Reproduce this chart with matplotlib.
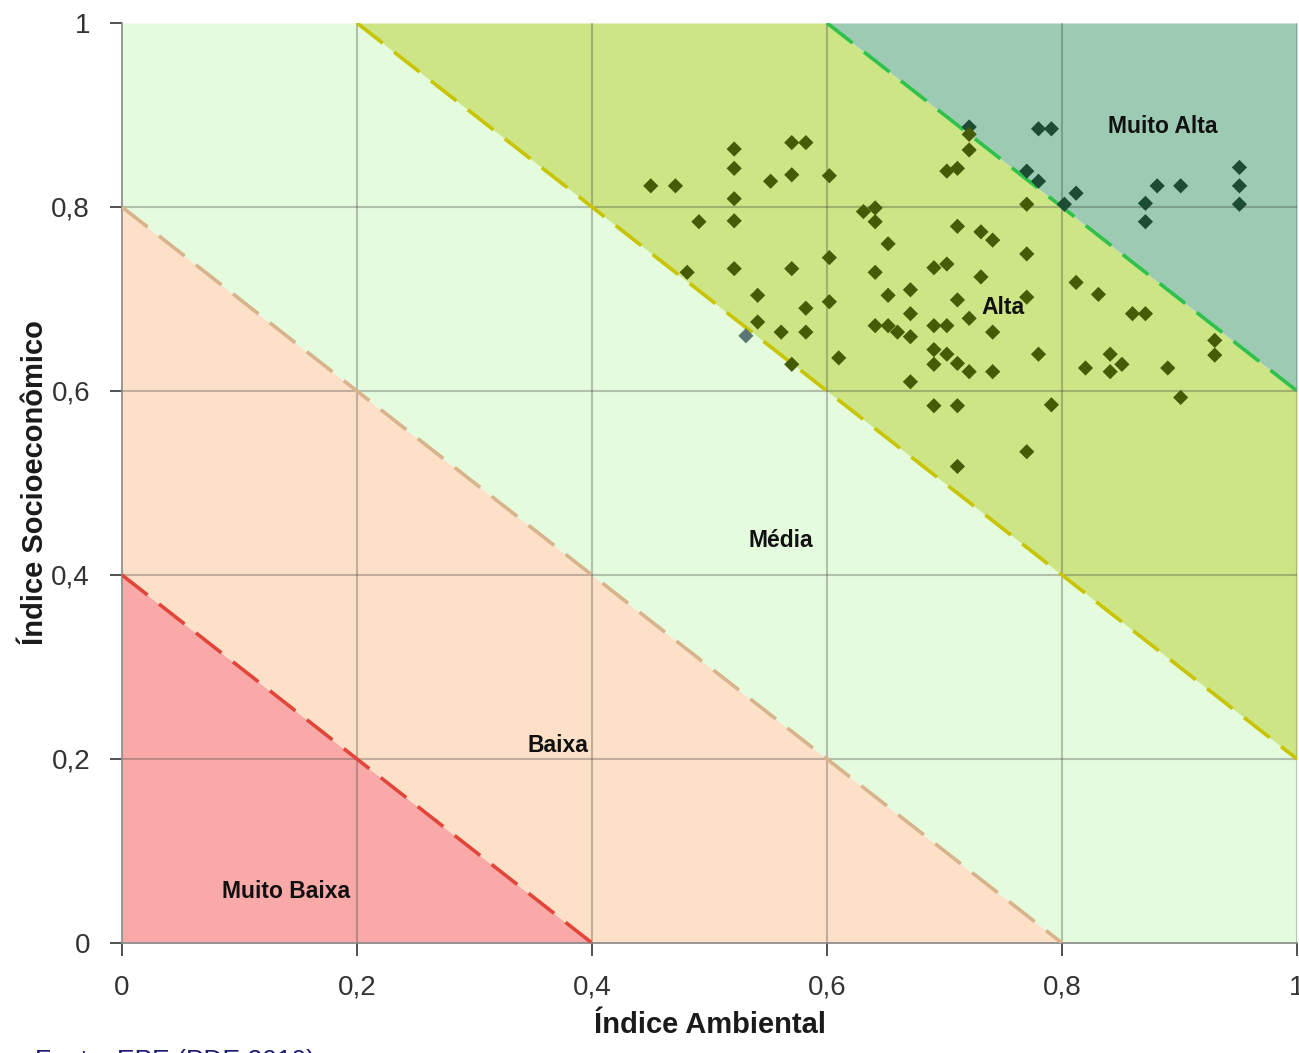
import numpy as np
from matplotlib import pyplot as plt

plt.rcParams["font.family"] = ["Liberation Sans", "DejaVu Sans"]

# class boundaries (x + y = c) and zone labels
bounds = [0.4, 0.8, 1.2, 1.6]
zone_names = ["Muito Baixa", "Baixa", "Média", "Alta", "Muito Alta"]
zone_label_x = [0.14, 0.371, 0.561, 0.75, 0.886]
zone_label_y = [0.056, 0.215, 0.438, 0.691, 0.887]
tick_vals = [0, 0.2, 0.4, 0.6, 0.8, 1]
tick_labels = ["0", "0,2", "0,4", "0,6", "0,8", "1"]

# municipalities: environmental index (x) and socioeconomic index (y)
ind_amb = [
    0.450, 0.471, 0.521, 0.521, 0.521, 0.570, 0.582, 0.552, 0.570, 0.602,
    0.491, 0.521, 0.631, 0.641, 0.641, 0.652, 0.702, 0.711, 0.711, 0.602,
    0.481, 0.521, 0.570, 0.641, 0.691, 0.702, 0.541, 0.652, 0.671, 0.602,
    0.711, 0.582, 0.541, 0.561, 0.582, 0.531, 0.570, 0.610, 0.652, 0.641,
    0.660, 0.671, 0.671, 0.691, 0.702, 0.691, 0.702, 0.691, 0.711, 0.671,
    0.691, 0.711, 0.711, 0.721, 0.721, 0.721, 0.780, 0.791, 0.770, 0.780,
    0.812, 0.802, 0.871, 0.871, 0.881, 0.901, 0.951, 0.951, 0.951, 0.770,
    0.731, 0.741, 0.770, 0.731, 0.812, 0.831, 0.770, 0.721, 0.741, 0.721,
    0.741, 0.780, 0.860, 0.871, 0.820, 0.841, 0.851, 0.841, 0.890, 0.930,
    0.930, 0.791, 0.901, 0.770,
]
ind_soc = [
    0.823, 0.823, 0.863, 0.842, 0.809, 0.870, 0.870, 0.828, 0.835, 0.834,
    0.784, 0.785, 0.795, 0.799, 0.784, 0.760, 0.839, 0.842, 0.779, 0.745,
    0.729, 0.733, 0.733, 0.729, 0.734, 0.738, 0.704, 0.704, 0.710, 0.697,
    0.699, 0.690, 0.675, 0.664, 0.664, 0.660, 0.629, 0.636, 0.671, 0.671,
    0.664, 0.659, 0.684, 0.671, 0.671, 0.645, 0.640, 0.629, 0.630, 0.610,
    0.584, 0.584, 0.518, 0.887, 0.879, 0.862, 0.885, 0.885, 0.839, 0.828,
    0.815, 0.803, 0.804, 0.784, 0.823, 0.823, 0.843, 0.823, 0.803, 0.803,
    0.773, 0.764, 0.749, 0.724, 0.718, 0.705, 0.702, 0.679, 0.664, 0.621,
    0.621, 0.640, 0.684, 0.684, 0.625, 0.640, 0.629, 0.621, 0.625, 0.655,
    0.639, 0.585, 0.593, 0.534,
]

zone_colors = ["#f9aaa8", "#fde0c8", "#e4fbde", "#cde585", "#9ccab2"]
line_colors = ["#e2463a", "#d8b48c", "#c8c400", "#2ec24c"]

fig = plt.figure(figsize=(12.99, 10.53), dpi=100)
ax = fig.add_axes([122 / 1299, 110 / 1053, 1175 / 1299, 920 / 1053])

xs = np.linspace(0, 1, 1001)
edges = [-1.0] + bounds + [3.0]
for i, col in enumerate(zone_colors):
    lo = np.clip(edges[i] - xs, 0, 1)
    hi = np.clip(edges[i + 1] - xs, 0, 1)
    ax.fill_between(xs, lo, hi, color=col, lw=0, zorder=1)

# grid drawn semi-transparent so it takes the tint of each zone
for v in tick_vals[1:-1]:
    ax.axvline(v, color="#3a3a3a", alpha=0.3, lw=1.5, zorder=2)
    ax.axhline(v, color="#3a3a3a", alpha=0.3, lw=1.5, zorder=2)
ax.axvline(1, color="#3a3a3a", alpha=0.25, lw=1.5, zorder=2)

for c, col in zip(bounds, line_colors):
    x0 = max(0, c - 1)
    x1 = min(1, c)
    ax.plot([x0, x1], [c - x0, c - x1], color=col, lw=2.6,
            dashes=(9, 4), zorder=3)

amb = np.array(ind_amb)
soc = np.array(ind_soc)
total = amb + soc
pt_colors = np.where(total > 1.6, "#1d4c34",
                     np.where(total < 1.195, "#5b7674", "#455b06"))
ax.scatter(amb, soc, marker="D", s=60, c=pt_colors, lw=0, zorder=4)

for name, lx, ly in zip(zone_names, zone_label_x, zone_label_y):
    ax.text(lx, ly, name, ha="center", va="center", fontsize=16.5,
            fontweight="bold", color="#111111", zorder=5)

ax.set_xlim(0, 1)
ax.set_ylim(0, 1)
ax.set_xticks(tick_vals)
ax.set_xticklabels(tick_labels)
ax.set_yticks(tick_vals)
ax.set_yticklabels(tick_labels)
ax.tick_params(axis="both", labelsize=20, colors="#333333", length=9,
               width=1.2)
ax.tick_params(axis="y", pad=14)
ax.tick_params(axis="x", pad=14)
for side in ["top", "right"]:
    ax.spines[side].set_visible(False)
for side in ["left", "bottom"]:
    ax.spines[side].set_color("#888888")
    ax.spines[side].set_linewidth(1.2)

ax.set_xlabel("Índice Ambiental", fontsize=21, fontweight="bold",
              color="#1a1a1a")
ax.set_ylabel("Índice Socioeconômico", fontsize=21, fontweight="bold",
              color="#1a1a1a")
ax.xaxis.set_label_coords(0.5, -0.074)
ax.yaxis.set_label_coords(-0.062, 0.5)

fig.text(35 / 1299, 4 / 1053, "Fonte: EPE (PDE 2010)", fontsize=19,
         color="#1a1a70", ha="left", va="top")

fig.savefig("out.png", dpi=100)
